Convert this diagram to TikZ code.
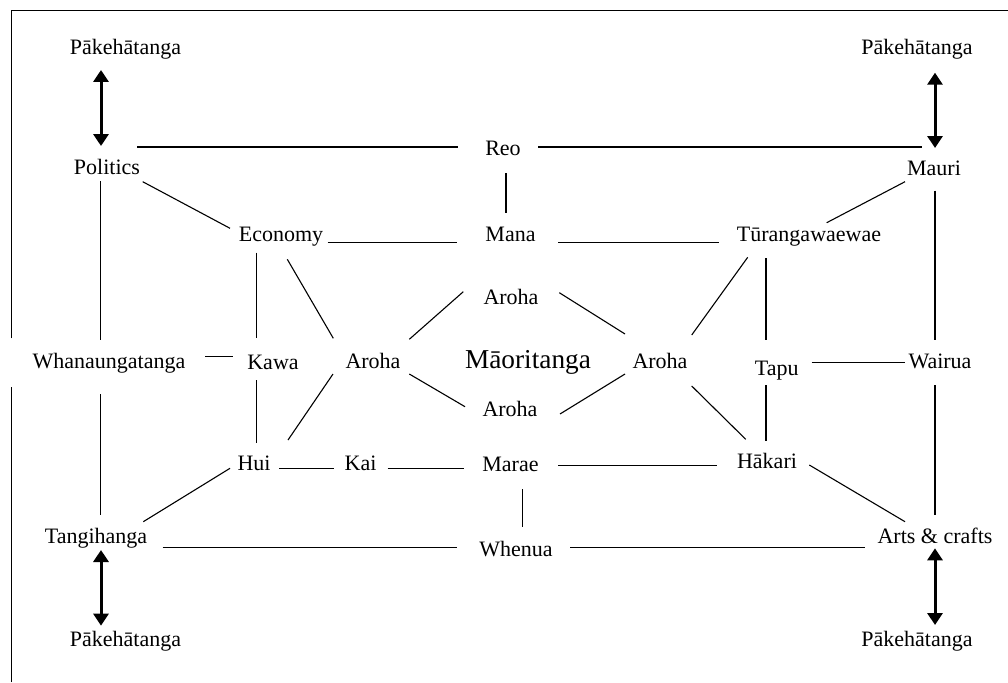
\documentclass[tikz,border=0pt]{standalone}
\usepackage{fontspec}
\setmainfont{Liberation Serif}
\usetikzlibrary{calc,arrows.meta}
\tikzset{
  lbl/.style={inner sep=0pt, anchor=base, font=\fontsize{22}{26}\selectfont},
  big/.style={inner sep=0pt, anchor=base, font=\fontsize{27.3}{32}\selectfont},
  link/.style={line width=1.1pt},
  dbl/.style={line width=3pt, {Triangle[length=12pt,width=15pt]}-{Triangle[length=12pt,width=15pt]}},
  frame/.style={line width=1.3pt}
}
\begin{document}
\begin{tikzpicture}[x=1pt,y=-1pt]
\useasboundingbox (0,0) rectangle (1008,682);
% frame
\draw[frame] (11.7,682) -- (11.7,387.3);
\draw[frame] (11.7,338.3) -- (11.7,10.7) -- (1008,10.7);
% nodes
\node[lbl] (pk1) at (125.5,55) {Pākehātanga};
\node[lbl] (pk2) at (917,55) {Pākehātanga};
\node[lbl] (pk3) at (125.5,646.5) {Pākehātanga};
\node[lbl] (pk4) at (917,646.5) {Pākehātanga};
\node[lbl] (politics) at (107,174) {Politics};
\node[lbl] (reo) at (503,155) {Reo};
\node[lbl] (mauri) at (934,175) {Mauri};
\node[lbl] (economy) at (281,241.5) {Economy};
\node[lbl] (mana) at (510.5,241.5) {Mana};
\node[lbl] (turanga) at (809,241.5) {Tūrangawaewae};
\node[lbl] (arohaT) at (511,304) {Aroha};
\node[lbl] (whanau) at (109,368) {Whanaungatanga};
\node[lbl] (kawa) at (273,369) {Kawa};
\node[lbl] (arohaL) at (373,368) {Aroha};
\node[big] (maori) at (528,368) {Māoritanga};
\node[lbl] (arohaR) at (660,368) {Aroha};
\node[lbl] (tapu) at (776.7,375) {Tapu};
\node[lbl] (wairua) at (940,368) {Wairua};
\node[lbl] (arohaB) at (510,416.5) {Aroha};
\node[lbl] (hui) at (254,470.5) {Hui};
\node[lbl] (kai) at (360.5,470) {Kai};
\node[lbl] (marae) at (510.5,471.5) {Marae};
\node[lbl] (hakari) at (767,468) {Hākari};
\node[lbl] (tangi) at (96,543) {Tangihanga};
\node[lbl] (whenua) at (516,556) {Whenua};
\node[lbl] (arts) at (935,543) {Arts \& crafts};
% double arrows
\draw[dbl] ($(pk1.base)+(-24.5,15)$) -- ($(politics.base)+(-6,-28)$);
\draw[dbl] ($(pk2.base)+(18,17.7)$) -- ($(mauri.base)+(1,-27)$);
\draw[dbl] ($(tangi.base)+(5,7)$) -- ($(pk3.base)+(-24.5,-20.8)$);
\draw[dbl] ($(arts.base)+(0,5.3)$) -- ($(pk4.base)+(18,-21.5)$);
% links
\draw[link] ($(politics.base)+(30,-27)$) -- ($(reo.base)+(-45,-8)$);
\draw[link] ($(reo.base)+(35,-8)$) -- ($(mauri.base)+(-12,-28)$);
\draw[link] ($(reo.base)+(3,18)$) -- ($(mana.base)+(-4.5,-28.5)$);
\draw[link] ($(politics.base)+(35.7,7.7)$) -- ($(economy.base)+(-51,-13.2)$);
\draw[link] ($(economy.base)+(46.7,1.2)$) -- ($(mana.base)+(-53.5,1.2)$);
\draw[link] ($(mana.base)+(47.5,0.8)$) -- ($(turanga.base)+(-90,0.8)$);
\draw[link] ($(mauri.base)+(-29,6.7)$) -- ($(turanga.base)+(17.7,-18.8)$);
\draw[link] ($(mauri.base)+(1,15.7)$) -- ($(wairua.base)+(-5,-28)$);
\draw[link] ($(wairua.base)+(-5,17)$) -- ($(arts.base)+(0,-28)$);
\draw[link] ($(tapu.base)+(35,-12.3)$) -- ($(wairua.base)+(-35,-5.3)$);
\draw[link] ($(turanga.base)+(-43,16.8)$) -- ($(tapu.base)+(-10.7,-35)$);
\draw[link] ($(tapu.base)+(-10.7,10)$) -- ($(hakari.base)+(-1,-27.3)$);
\draw[link] ($(turanga.base)+(-61.3,15.8)$) -- ($(arohaR.base)+(31.7,-33)$);
\draw[link] ($(arohaR.base)+(31.7,18)$) -- ($(hakari.base)+(-21.3,-28.7)$);
\draw[link] ($(marae.base)+(47.5,-6)$) -- ($(hakari.base)+(-49.7,-2.5)$);
\draw[link] ($(hakari.base)+(42.3,-3)$) -- ($(arts.base)+(-30,-21.3)$);
\draw[link] ($(whenua.base)+(54,-8.7)$) -- ($(arts.base)+(-70,4.3)$);
\draw[link] ($(marae.base)+(12.2,17.8)$) -- ($(whenua.base)+(6.7,-29.3)$);
\draw[link] ($(hui.base)+(25,-2.2)$) -- ($(kai.base)+(-26.5,-1.7)$);
\draw[link] ($(kai.base)+(27.2,-1.7)$) -- ($(marae.base)+(-46.2,-3.2)$);
\draw[link] ($(tangi.base)+(66.7,4.3)$) -- ($(whenua.base)+(-58.7,-8.7)$);
\draw[link] ($(hui.base)+(-24,-2.2)$) -- ($(tangi.base)+(47.3,-21.3)$);
\draw[link] ($(politics.base)+(-6.7,7)$) -- ($(whanau.base)+(-8.7,-28)$);
\draw[link] ($(whanau.base)+(-8.7,26)$) -- ($(tangi.base)+(4.3,-28)$);
\draw[link] ($(whanau.base)+(96,-11.3)$) -- ($(kawa.base)+(-39.7,-12.3)$);
\draw[link] ($(economy.base)+(-24.3,11.2)$) -- ($(kawa.base)+(-16.3,-30.7)$);
\draw[link] ($(kawa.base)+(-16.3,11)$) -- ($(hui.base)+(2.7,-27.8)$);
\draw[link] ($(economy.base)+(6.3,17.8)$) -- ($(arohaL.base)+(-39.7,-29.7)$);
\draw[link] ($(arohaL.base)+(-40,6)$) -- ($(hui.base)+(34,-30.5)$);
\draw[link] ($(arohaL.base)+(36.3,-28.7)$) -- ($(arohaT.base)+(-47.7,-12.3)$);
\draw[link] ($(arohaT.base)+(48.3,-11.3)$) -- ($(arohaR.base)+(-35,-34)$);
\draw[link] ($(arohaL.base)+(36.3,6)$) -- ($(arohaB.base)+(-45,-9.8)$);
\draw[link] ($(arohaB.base)+(50,-2.5)$) -- ($(arohaR.base)+(-35,6)$);
\end{tikzpicture}
\end{document}
